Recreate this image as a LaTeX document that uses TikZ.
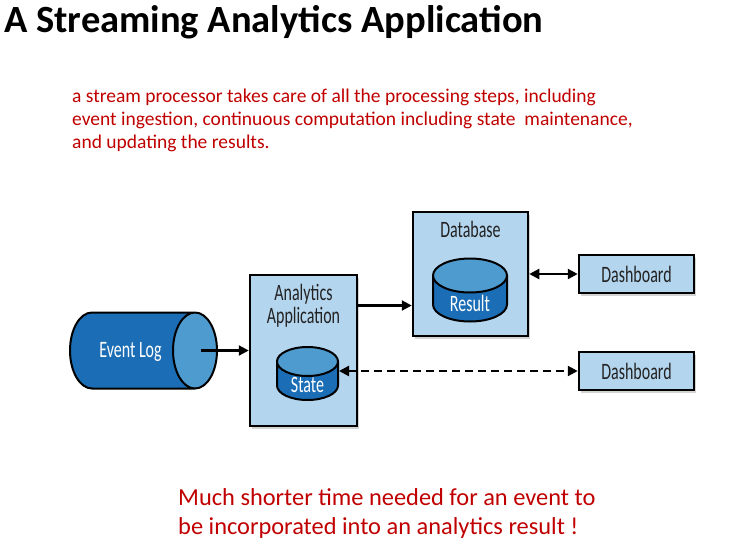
\documentclass[tikz,border=0pt]{standalone}
\usepackage{fontspec}
\setmainfont{Carlito}
\newfontfamily\condfont[FakeStretch=0.68]{Carlito}
\usetikzlibrary{arrows.meta,positioning,shapes.geometric,shadows}
\definecolor{ink}{HTML}{222222}
\definecolor{boxblue}{HTML}{B4D5EE}
\definecolor{cylblue}{HTML}{1B6EB6}
\definecolor{cyltop}{HTML}{4E9BD0}
\definecolor{remark}{HTML}{C00000}

\begin{document}
\begin{tikzpicture}[x=1pt, y=-1pt, >={Triangle[length=10pt,width=10pt]},
  box/.style={draw=black, line width=2.5pt, fill=boxblue, inner sep=0pt,
    drop shadow={shadow xshift=2pt, shadow yshift=-2.5pt, opacity=0.35},
    font=\condfont\fontsize{23.5}{23}\selectfont, text=ink},
  cyl/.style={cylinder, anchor=shape center, draw=black, line width=2pt, inner sep=5pt,
    cylinder uses custom fill, cylinder body fill=cylblue, cylinder end fill=cyltop},
  inlbl/.style={text=white, font=\condfont\fontsize{23.5}{23}\selectfont},
  hdr/.style={anchor=north, align=center, inner sep=0pt, yshift=-10pt, text=ink,
    font=\condfont\fontsize{23.5}{23}\selectfont},
  arr/.style={->, line width=2.2pt},
  txt/.style={inner sep=0pt, align=left, text=remark}]
\useasboundingbox (0,0) rectangle (732,555);
\node[inner sep=0pt, anchor=base west, font=\bfseries\fontsize{38.5}{40}\selectfont] (title) at (4,32) {A Streaming Analytics Application};
\node[txt, anchor=base west, font=\fontsize{19.5}{23}\selectfont] (note) at (72,148)
  {a stream processor takes care of all the processing steps, including\\
   event ingestion, continuous computation including state\ \ maintenance,\\
   and updating the results.};

\node[cyl, minimum width=76pt, minimum height=147pt, aspect=4.4,
  label={[inlbl, xshift=4pt, yshift=-1.5pt]center:Event Log}] (evlog) at (143.5,350.5) {};
\node[box, minimum width=107pt, minimum height=151pt,
  label={[hdr]north:Analytics\\Application}] (app) at (303.5,350.5) {};
\node[cyl, shape border rotate=90, minimum width=61pt, minimum height=53pt, aspect=2.9,
  label={[inlbl]center:State}] (state) at (307.5,373.5) {};
\node[box, minimum width=115pt, minimum height=124pt,
  label={[hdr]north:Database}] (db) at (470.5,274) {};
\node[cyl, shape border rotate=90, minimum width=74pt, minimum height=63pt, aspect=3.4,
  label={[inlbl]center:Result}] (result) at (470,290) {};
\node[box, minimum width=115pt, minimum height=38pt] (dash1) at (636.5,274) {Dashboard};
\node[box, minimum width=115pt, minimum height=38pt] (dash2) at (636.5,371) {Dashboard};

\draw[arr] ([xshift=-17pt]evlog.east) -- (evlog.east -| app.west);
\draw[arr] ([yshift=45pt]app.east) -- ([yshift=45pt]app.east -| db.west);
\draw[arr, <->] (db.east) -- (dash1.west);
\draw[arr, <->, dashed, dash pattern=on 8pt off 5pt] (dash2.west -| state.east) -- (dash2.west);

\node[txt, anchor=base west, font=\fontsize{24.4}{29}\selectfont] (concl) at (178,534)
  {Much shorter time needed for an event to\\
   be incorporated into an analytics result !};
\end{tikzpicture}
\end{document}
